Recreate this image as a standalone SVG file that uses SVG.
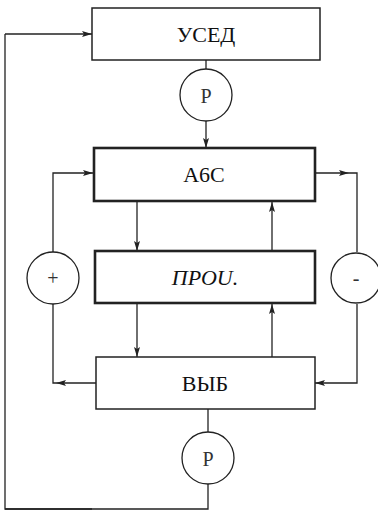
<svg xmlns="http://www.w3.org/2000/svg" width="378" height="512" viewBox="0 0 378 512">
<style>
.box{fill:#fff;stroke:#222;stroke-width:1.5}
.thick{stroke-width:2.6}
.c{fill:#fff;stroke:#222;stroke-width:1.3}
.ln{fill:none;stroke:#222;stroke-width:1.3}
.t{font-family:"Liberation Serif","Times New Roman",serif;font-size:22px;fill:#111;text-anchor:middle;dominant-baseline:central}
.s{font-family:"Liberation Serif",serif;font-size:20px;fill:#333;text-anchor:middle;dominant-baseline:central}
</style>
<defs>
<marker id="a" viewBox="0 0 10 6" refX="10" refY="3" markerWidth="10" markerHeight="6" markerUnits="userSpaceOnUse" orient="auto">
<path d="M0,0 L10,3 L0,6 L2,3 Z" fill="#222"/>
</marker>
</defs>
<g id="connectors">
<path class="ln" d="M92,509 L5,509 L5,34" />
<path class="ln" d="M5,509 L208,509 L208,484" />
<path class="ln" d="M5,34 L92,34" marker-end="url(#a)"/>
<path class="ln" d="M206,60 L206,69"/>
<path class="ln" d="M206,121 L206,148" marker-end="url(#a)"/>
<path class="ln" d="M53,252 L53,173 L93,173" marker-end="url(#a)"/>
<path class="ln" d="M315,173 L349,173" marker-end="url(#a)"/>
<path class="ln" d="M349,173 L357,173 L357,252"/>
<path class="ln" d="M137,201 L137,251" marker-end="url(#a)"/>
<path class="ln" d="M272,251 L272,202" marker-end="url(#a)"/>
<path class="ln" d="M137,303 L137,357" marker-end="url(#a)"/>
<path class="ln" d="M272,357 L272,304" marker-end="url(#a)"/>
<path class="ln" d="M96,383 L56,383" marker-end="url(#a)"/>
<path class="ln" d="M56,383 L53,383 L53,304"/>
<path class="ln" d="M357,304 L357,383 L315,383" marker-end="url(#a)"/>
<path class="ln" d="M208,409 L208,432"/>
</g>
<g id="used">
<rect class="box" x="92" y="8" width="228" height="52"/>
<text class="t" x="206" y="34">УСЕД</text>
</g>
<g id="p-top">
<circle class="c" cx="206" cy="95" r="26"/>
<text class="s" x="206" y="96">P</text>
</g>
<g id="abs">
<rect class="box thick" x="94" y="148" width="221" height="53"/>
<text class="t" x="204" y="174">А6С</text>
</g>
<g id="plus">
<circle class="c" cx="53" cy="278" r="26"/>
<text class="s" x="53" y="278">+</text>
</g>
<g id="minus">
<circle class="c" cx="356" cy="278" r="25"/>
<text class="s" x="356" y="278">-</text>
</g>
<g id="prou">
<rect class="box thick" x="95" y="251" width="220" height="52"/>
<text class="t" x="205" y="277" font-style="italic">ПРОU.</text>
</g>
<g id="vyb">
<rect class="box" x="96" y="357" width="219" height="52"/>
<text class="t" x="205" y="383">ВЫБ</text>
</g>
<g id="p-bottom">
<circle class="c" cx="208" cy="458" r="26"/>
<text class="s" x="208" y="459">P</text>
</g>
</svg>
